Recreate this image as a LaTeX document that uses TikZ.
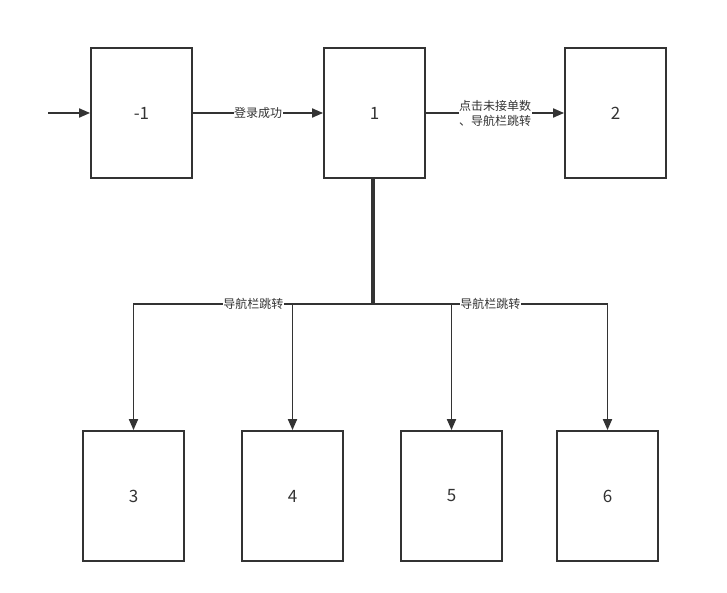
\documentclass[tikz,border=0pt]{standalone}
\usepackage{fontspec}
\setmainfont{Noto Sans CJK SC}
\usetikzlibrary{arrows.meta}
\definecolor{ln}{HTML}{333333}
\begin{document}
\begin{tikzpicture}[x=1pt,y=-1pt,
  box/.style={draw=ln,line width=1.8pt,minimum width=101pt,minimum height=130pt,inner sep=0pt,font=\fontsize{17}{19}\selectfont,text=ln},
  conn/.style={draw=ln,line width=1.8pt,-{Triangle[length=11pt,width=9pt]}},
  lbl/.style={fill=white,inner sep=0.5pt,font=\fontsize{12}{14}\selectfont,text=ln,align=center}]
\useasboundingbox (0,0) rectangle (727,593);
\node[box] (m1) at (141.5,113) {-1};
\node[box] (n1) at (374.5,113) {1};
\node[box] (n2) at (615.5,113) {2};
\node[box] (n3) at (133.5,496) {3};
\node[box] (n4) at (292.5,496) {4};
\node[box] (n5) at (451.5,496) {5};
\node[box] (n6) at (607.5,496) {6};
\coordinate (start) at (48,113);
\coordinate (j) at (373,304);
\draw[conn] (start) -- (m1);
\draw[conn] (m1) -- node[lbl] {登录成功} (n1);
\draw[conn] (n1) -- node[lbl,font=\fontsize{12}{15}\selectfont] {点击未接单数\\、导航栏跳转} (n2);
\draw[draw=ln,line width=4.5pt] (n1.south -| j) -- (j);
\draw[conn] (n1.south -| j) -- (j) -| node[lbl,pos=0.25] {导航栏跳转} (n3.north);
\draw[conn] (n1.south -| j) -- (j) -| (n4.north);
\draw[conn] (n1.south -| j) -- (j) -| (n5.north);
\draw[conn] (n1.south -| j) -- (j) -| node[lbl,pos=0.25] {导航栏跳转} (n6.north);
\end{tikzpicture}
\end{document}
